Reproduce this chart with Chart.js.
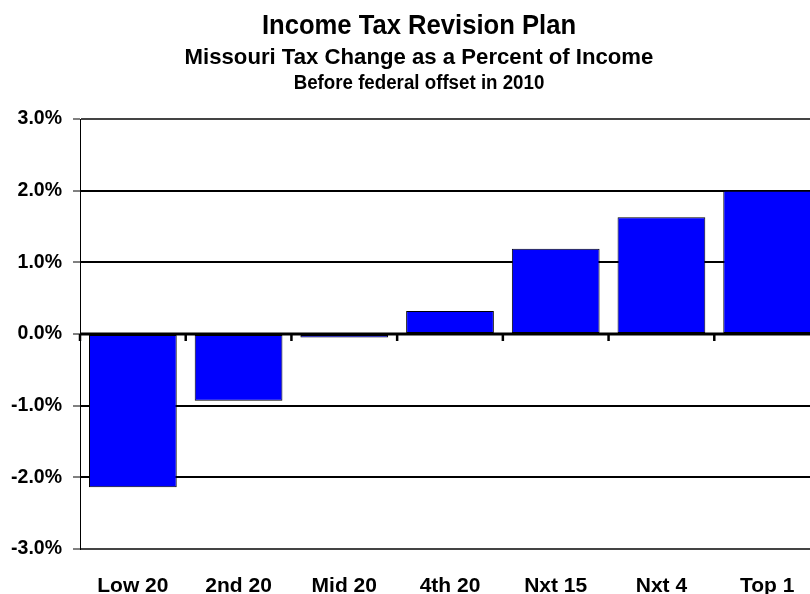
<!DOCTYPE html>
<html>
<head>
<meta charset="utf-8">
<script src="https://cdn.jsdelivr.net/npm/chart.js@4/dist/chart.umd.min.js"></script>
<style>
  html, body { margin: 0; padding: 0; background: #fff; overflow: hidden; }
  #wrap { position: relative; width: 830px; height: 594px; }
  .ttl { position: absolute; left: 0; width: 838px; text-align: center; line-height: 1;
         font-family: 'Liberation Sans', Arial, sans-serif; font-weight: bold; color: #000; white-space: nowrap;
         transform-origin: 419px 0; }
  #t1 { top: 11px; font-size: 28px; transform: scaleX(0.915); }
  #t2 { top: 46px; font-size: 22.5px; transform: scaleX(0.985); }
  #t3 { top: 73px; font-size: 19.5px; transform: scaleX(0.96); }
</style>
</head>
<body>
<div id="wrap">
  <canvas id="taxChart" width="830" height="594"></canvas>
  <div class="ttl" id="t1">Income Tax Revision Plan</div>
  <div class="ttl" id="t2">Missouri Tax Change as a Percent of Income</div>
  <div class="ttl" id="t3">Before federal offset in 2010</div>
</div>
<script>
const groups = ['Low 20', '2nd 20', 'Mid 20', '4th 20', 'Nxt 15', 'Nxt 4', 'Top 1'];
const taxChange = [-2.14, -0.93, -0.05, 0.32, 1.19, 1.63, 2.0];
const yMin = -3;
const yMax = 3;

const fontFamily = "'Liberation Sans', Arial, sans-serif";

// zero line on top of the bars, with tick marks between the groups
const zeroAxis = {
    id: 'zeroAxis',
    afterDatasetsDraw(chart) {
        const c = chart.ctx;
        const x = chart.scales.x;
        const y0 = chart.scales.y.getPixelForValue(0);
        const area = chart.chartArea;
        c.save();
        c.strokeStyle = '#000';
        c.lineWidth = 3;
        c.beginPath();
        c.moveTo(area.left, y0);
        c.lineTo(area.right, y0);
        c.stroke();
        c.lineWidth = 2.5;
        for (let i = 0; i < groups.length; i++) {
            const bx = i === 0 ? area.left : (x.getPixelForValue(i - 1) + x.getPixelForValue(i)) / 2;
            c.beginPath();
            c.moveTo(bx, y0);
            c.lineTo(bx, y0 + 7);
            c.stroke();
        }
        c.restore();
    }
};

const ctx = document.getElementById('taxChart').getContext('2d');
const taxChart = new Chart(ctx, {
    type: 'bar',
    data: {
        labels: groups,
        datasets: [{
            data: taxChange,
            backgroundColor: '#0000ff',
            borderColor: '#000000',
            borderWidth: 1,
            borderSkipped: false,
            barPercentage: 0.83,
            categoryPercentage: 1.0
        }]
    },
    options: {
        responsive: false,
        animation: false,
        layout: {
            padding: { top: 119, right: 10, bottom: 0, left: 0 }
        },
        plugins: {
            legend: { display: false },
            tooltip: { enabled: false }
        },
        scales: {
            x: {
                grid: { display: false },
                border: { display: false },
                ticks: {
                    color: '#000',
                    padding: 17,
                    maxRotation: 0,
                    font: { family: fontFamily, size: 21, weight: 'bold' }
                },
                afterFit(scale) { scale.height = 45; }
            },
            y: {
                min: yMin,
                max: yMax,
                border: { display: true, color: '#000', width: 1 },
                grid: {
                    color: (c) => (c.tick.value === 0 ? 'rgba(0,0,0,0)' : (Math.abs(c.tick.value) === 3 ? '#444' : '#000')),
                    lineWidth: 2,
                    tickColor: '#000',
                    tickWidth: 1,
                    tickLength: 7
                },
                ticks: {
                    stepSize: 1,
                    color: '#000',
                    padding: 11,
                    font: { family: fontFamily, size: 19.5, weight: 'bold' },
                    callback: (v) => v.toFixed(1) + '%'
                },
                afterFit(scale) { scale.width = 80; }
            }
        }
    },
    plugins: [zeroAxis]
});
</script>
</body>
</html>
